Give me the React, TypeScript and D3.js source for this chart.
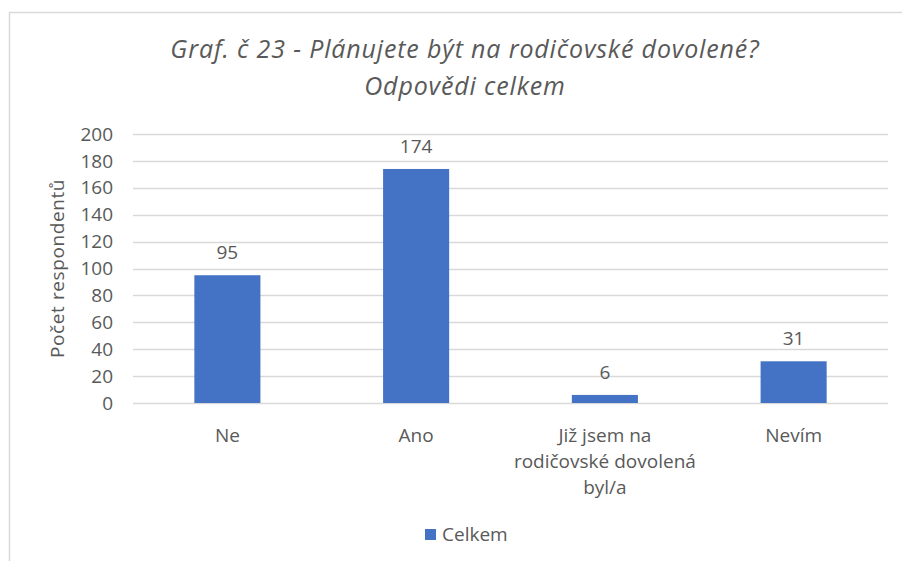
import React, { useEffect, useRef } from 'react';
import * as d3 from 'd3';

const categories = ['Ne', 'Ano', 'Již jsem na rodičovské dovolená byl/a', 'Nevím'];
const categoryLines = [['Ne'], ['Ano'], ['Již jsem na', 'rodičovské dovolená', 'byl/a'], ['Nevím']];
const values = [95, 174, 6, 31];
const yTicks = [0, 20, 40, 60, 80, 100, 120, 140, 160, 180, 200];
const titleLines = ['Graf. č 23 - Plánujete být na rodičovské dovolené?', 'Odpovědi celkem'];
const seriesName = 'Celkem';
const yTitle = 'Počet respondentů';

const W = 902;
const H = 561;
const FONT = '"Open Sans", "Noto Sans", sans-serif';
const TEXT = '#595959';
const BAR = '#4472C4';
const GRID = '#d9d9d9';

const App = () => {
  const ref = useRef<SVGSVGElement | null>(null);

  useEffect(() => {
    if (!ref.current) return;
    const svg = d3.select(ref.current);
    svg.selectAll('*').remove();

    const plot = { left: 133, right: 888, top: 134, bottom: 403 };

    // chart area border
    svg
      .append('rect')
      .attr('x', 9.5)
      .attr('y', 12.5)
      .attr('width', W + 20)
      .attr('height', H + 20)
      .attr('fill', '#fff')
      .attr('stroke', GRID)
      .attr('stroke-width', 1.5);

    // title
    svg
      .append('g')
      .selectAll('text')
      .data(titleLines)
      .enter()
      .append('text')
      .attr('x', 465)
      .attr('y', (d, i) => 58 + i * 37)
      .attr('text-anchor', 'middle')
      .style('font-family', FONT)
      .style('font-style', 'italic')
      .style('font-size', '25px')
      .style('letter-spacing', '0.85px')
      .style('fill', TEXT)
      .text((d) => d);

    const x = d3
      .scaleBand()
      .domain(categories)
      .range([plot.left, plot.right])
      .padding(0);

    const y = d3.scaleLinear().domain([0, 200]).range([plot.bottom, plot.top]);

    const barW = x.bandwidth() * 0.35;

    // gridlines
    svg
      .append('g')
      .selectAll('line')
      .data(yTicks)
      .enter()
      .append('line')
      .attr('x1', plot.left)
      .attr('x2', plot.right)
      .attr('y1', (d) => Math.round(y(d)) + 0.5)
      .attr('y2', (d) => Math.round(y(d)) + 0.5)
      .attr('stroke', GRID)
      .attr('stroke-width', 1.5);

    // y tick labels
    svg
      .append('g')
      .selectAll('text')
      .data(yTicks)
      .enter()
      .append('text')
      .attr('x', 113)
      .attr('y', (d) => y(d))
      .attr('dy', '0.35em')
      .attr('text-anchor', 'end')
      .style('font-family', FONT)
      .style('font-size', '19px')
      .style('fill', TEXT)
      .text((d) => d);

    // y axis title
    svg
      .append('text')
      .attr('transform', `translate(57,${(plot.top + plot.bottom) / 2}) rotate(-90)`)
      .attr('dy', '0.35em')
      .attr('text-anchor', 'middle')
      .style('font-family', FONT)
      .style('font-size', '19px')
      .style('letter-spacing', '0.6px')
      .style('fill', TEXT)
      .text(yTitle);

    // bars
    svg
      .append('g')
      .selectAll('rect')
      .data(values)
      .enter()
      .append('rect')
      .attr('x', (d, i) => (x(categories[i]) as number) + (x.bandwidth() - barW) / 2)
      .attr('y', (d) => y(d))
      .attr('width', barW)
      .attr('height', (d) => y(0) - y(d))
      .attr('fill', BAR);

    // data labels
    svg
      .append('g')
      .selectAll('text')
      .data(values)
      .enter()
      .append('text')
      .attr('x', (d, i) => (x(categories[i]) as number) + x.bandwidth() / 2)
      .attr('y', (d) => y(d) - 23)
      .attr('dy', '0.35em')
      .attr('text-anchor', 'middle')
      .style('font-family', FONT)
      .style('font-size', '19px')
      .style('fill', TEXT)
      .text((d) => d);

    // category labels
    const cat = svg
      .append('g')
      .selectAll('text')
      .data(categories)
      .enter()
      .append('text')
      .attr('text-anchor', 'middle')
      .style('font-family', FONT)
      .style('font-size', '19px')
      .style('fill', TEXT);

    cat.each(function (d, i) {
      const cx = (x(d) as number) + x.bandwidth() / 2;
      d3.select(this)
        .selectAll('tspan')
        .data(categoryLines[i])
        .enter()
        .append('tspan')
        .attr('x', cx)
        .attr('y', (t, j) => 435 + j * 26)
        .attr('dy', '0.35em')
        .text((t) => t);
    });

    // legend
    const legend = svg.append('g').attr('transform', 'translate(425,529)');
    legend.append('rect').attr('width', 11).attr('height', 11).attr('fill', BAR);
    legend
      .append('text')
      .attr('x', 17)
      .attr('y', 5.5)
      .attr('dy', '0.35em')
      .style('font-family', FONT)
      .style('font-size', '19px')
      .style('fill', TEXT)
      .text(seriesName);
  }, []);

  return (
    <svg
      ref={ref}
      width={W}
      height={H}
      style={{ position: 'fixed', left: 0, top: 0, background: '#fff' }}
    />
  );
};

export default App;
